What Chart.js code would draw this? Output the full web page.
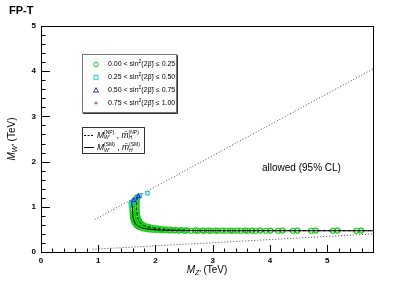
<!DOCTYPE html>
<html>
<head>
<meta charset="utf-8">
<script src="https://cdn.jsdelivr.net/npm/chart.js@4.4.1/dist/chart.umd.min.js"></script>
<style>
  html, body { margin: 0; padding: 0; background: #fff; }
  #wrap { width: 415px; height: 281px; }
</style>
</head>
<body>
<div id="wrap"><canvas id="chart" width="415" height="281"></canvas></div>
<script>
// Scan points, sin^2(2beta) in [0, 0.25] -- lower branch
const innerMZ = [1.585, 1.59, 1.595, 1.60, 1.60, 1.60, 1.605, 1.61, 1.62, 1.63, 1.645, 1.665, 1.69, 1.72, 1.76, 1.80, 1.85, 1.90, 1.96, 2.02, 2.09, 2.16, 2.24, 2.32, 2.41, 2.51,
                 2.62, 2.74, 2.85, 2.97, 3.09, 3.23, 3.35, 3.49, 3.61, 3.75, 3.93, 4.14, 4.40, 4.72, 5.10, 5.51];
const innerMW = [1.09, 1.04, 0.99, 0.94, 0.89, 0.84, 0.79, 0.75, 0.71, 0.67, 0.635, 0.60, 0.575, 0.555, 0.535, 0.52, 0.51, 0.50, 0.495, 0.49, 0.485, 0.48, 0.478, 0.476, 0.474, 0.472,
                 0.47, 0.47, 0.47, 0.47, 0.47, 0.47, 0.47, 0.47, 0.47, 0.47, 0.47, 0.47, 0.47, 0.47, 0.47, 0.47];
// upper branch
const outerMZ = [1.68, 1.675, 1.67, 1.67, 1.67, 1.67, 1.67, 1.675, 1.68, 1.69, 1.70, 1.715, 1.735, 1.76, 1.79, 1.83, 1.87, 1.92, 1.98, 2.04, 2.11, 2.18, 2.26, 2.35, 2.45, 2.55,
                 2.70, 2.82, 2.93, 3.05, 3.17, 3.31, 3.43, 3.57, 3.69, 3.83, 4.01, 4.22, 4.48, 4.80, 5.18, 5.59];
const outerMW = [1.21, 1.16, 1.11, 1.06, 1.01, 0.96, 0.91, 0.86, 0.81, 0.76, 0.72, 0.68, 0.645, 0.615, 0.59, 0.57, 0.555, 0.54, 0.527, 0.516, 0.507, 0.50, 0.494, 0.488, 0.484, 0.48,
                 0.477, 0.476, 0.475, 0.475, 0.475, 0.475, 0.475, 0.475, 0.475, 0.475, 0.475, 0.475, 0.475, 0.475, 0.475, 0.475];

// sin^2(2beta) in (0.25, 0.50]
const cyanMZ = [1.57, 1.59, 1.61, 1.64, 1.67, 1.70, 1.73, 1.86];
const cyanMW = [1.04, 1.09, 1.13, 1.16, 1.19, 1.22, 1.25, 1.30];
// sin^2(2beta) in (0.50, 0.75]
const blueMZ = [1.62, 1.70];
const blueMW = [1.14, 1.23];
// sin^2(2beta) in (0.75, 1.00]
const magentaMZ = [];
const magentaMW = [];

// bound curves
const npMZ = [1.68, 1.67, 1.67, 1.68, 1.70, 1.735, 1.79, 1.87, 1.98, 2.11, 2.26, 2.45, 2.70, 3.10, 3.60, 4.20, 5.00, 5.80];
const npMW = [1.21, 1.11, 0.96, 0.81, 0.72, 0.645, 0.59, 0.555, 0.527, 0.507, 0.494, 0.484, 0.477, 0.475, 0.474, 0.473, 0.472, 0.472];
const smMZ = [1.585, 1.595, 1.60, 1.605, 1.62, 1.645, 1.69, 1.76, 1.85, 1.96, 2.09, 2.24, 2.41, 2.70, 3.20, 4.00, 5.00, 5.80];
const smMW = [1.09, 0.99, 0.89, 0.79, 0.71, 0.635, 0.575, 0.535, 0.51, 0.495, 0.485, 0.478, 0.474, 0.471, 0.47, 0.47, 0.47, 0.47];

// dotted limits
const upperMZ = [0.94, 5.80];
const upperMW = [0.72, 4.05];
const lowerMZ = [0.90, 5.80];
const lowerMW = [0.06, 0.40];

const xTicks = [0, 1, 2, 3, 4, 5];
const yTicks = [0, 1, 2, 3, 4, 5];

const legendRows = [
    { lo: '0.00', hi: '0.25', color: '#11cc11', style: 'circle' },
    { lo: '0.25', hi: '0.50', color: '#22cccc', style: 'rect' },
    { lo: '0.50', hi: '0.75', color: '#3333cc', style: 'triangle' },
    { lo: '0.75', hi: '1.00', color: '#cc44cc', style: 'dot' }
];

const FONT = "'Liberation Sans', Arial, sans-serif";
const pts = (xs, ys) => xs.map((x, i) => ({ x: x, y: ys[i] }));

// draw a run of text pieces (for sub/superscripts); piece.w = 0 means "don't advance"
function drawRich(ctx, x, y, parts, align) {
    let total = 0;
    parts.forEach(p => {
        ctx.font = p.font;
        total += (p.w === 0) ? 0 : ctx.measureText(p.t).width;
    });
    let cx = align === 'center' ? x - total / 2 : x;
    parts.forEach(p => {
        ctx.font = p.font;
        ctx.fillText(p.t, cx, y + (p.dy || 0));
        if (p.w !== 0) cx += ctx.measureText(p.t).width;
    });
}

function drawMarker(ctx, style, x, y, color) {
    ctx.save();
    ctx.strokeStyle = color;
    ctx.fillStyle = color;
    ctx.lineWidth = 1;
    ctx.beginPath();
    if (style === 'circle') {
        ctx.arc(x, y, 2.2, 0, Math.PI * 2);
        ctx.stroke();
    } else if (style === 'rect') {
        ctx.strokeRect(x - 2, y - 2, 4, 4);
    } else if (style === 'triangle') {
        ctx.moveTo(x, y - 2.5);
        ctx.lineTo(x + 2.5, y + 2);
        ctx.lineTo(x - 2.5, y + 2);
        ctx.closePath();
        ctx.stroke();
    } else {
        ctx.arc(x, y, 1.5, 0, Math.PI * 2);
        ctx.fill();
    }
    ctx.restore();
}

const decor = {
    id: 'decor',
    afterDraw(chart) {
        const ctx = chart.ctx;
        const a = chart.chartArea;
        const xs = chart.scales.x, ys = chart.scales.y;
        ctx.save();

        // frame
        ctx.strokeStyle = '#000';
        ctx.lineWidth = 1;
        ctx.strokeRect(Math.round(a.left) + 0.5, Math.round(a.top) + 0.5, Math.round(a.right - a.left), Math.round(a.bottom - a.top));

        // inner ticks (ROOT style)
        ctx.beginPath();
        for (let v = 0; v <= 5.8001; v += 0.2) {
            const px = Math.round(xs.getPixelForValue(v)) + 0.5;
            const major = Math.abs(v - Math.round(v)) < 1e-6;
            ctx.moveTo(px, a.bottom);
            ctx.lineTo(px, a.bottom - (major ? 7 : 3.5));
        }
        for (let v = 0; v <= 5.0001; v += 0.2) {
            const py = Math.round(ys.getPixelForValue(v)) + 0.5;
            const major = Math.abs(v - Math.round(v)) < 1e-6;
            ctx.moveTo(a.left, py);
            ctx.lineTo(a.left + (major ? 9 : 4.5), py);
        }
        ctx.stroke();

        ctx.fillStyle = '#000';
        ctx.textBaseline = 'middle';
        ctx.textAlign = 'left';

        // title
        ctx.font = 'bold 11px ' + FONT;
        ctx.fillText('FP-T', 9, 11);

        // axis titles
        drawRich(ctx, (a.left + a.right) / 2, 270, [
            { t: 'M', font: 'italic 10px ' + FONT },
            { t: 'Z\u2032', font: 'italic 7px ' + FONT, dy: 3 },
            { t: ' (TeV)', font: '10px ' + FONT }
        ], 'center');
        ctx.save();
        ctx.translate(12, (a.top + a.bottom) / 2);
        ctx.rotate(-Math.PI / 2);
        drawRich(ctx, 0, 0, [
            { t: 'M', font: 'italic 10px ' + FONT },
            { t: 'W\u2032', font: 'italic 7px ' + FONT, dy: 3 },
            { t: ' (TeV)', font: '10px ' + FONT }
        ], 'center');
        ctx.restore();

        // annotation
        ctx.font = '10px ' + FONT;
        ctx.fillText('allowed (95% CL)', 262, 168);

        // legend 1
        ctx.fillStyle = '#fff';
        ctx.fillRect(82.5, 54.5, 94, 58);
        ctx.strokeStyle = '#777';
        ctx.strokeRect(82.5, 54.5, 94, 58);
        ctx.strokeStyle = '#333';
        ctx.beginPath();
        ctx.moveTo(83, 113.5); ctx.lineTo(177.5, 113.5); ctx.lineTo(177.5, 55);
        ctx.stroke();
        legendRows.forEach((r, i) => {
            const y = 64.5 + i * 12.8;
            drawMarker(ctx, r.style, 96, y, r.color);
            ctx.fillStyle = '#000';
            drawRich(ctx, 108, y, [
                { t: r.lo + ' < sin', font: '7px ' + FONT },
                { t: '2', font: '5px ' + FONT, dy: -2.5 },
                { t: '(2\u03B2\u0303) \u2264 ' + r.hi, font: '7px ' + FONT }
            ]);
        });

        // legend 2
        ctx.fillStyle = '#fff';
        ctx.fillRect(82.5, 127.5, 62, 26);
        ctx.strokeStyle = '#333';
        ctx.strokeRect(82.5, 127.5, 62, 26);
        const rows2 = [{ tag: '(NP)', dash: [2, 1.5], y: 134.5 }, { tag: '(SM)', dash: [], y: 147 }];
        rows2.forEach(r => {
            ctx.strokeStyle = '#000';
            ctx.setLineDash(r.dash);
            ctx.beginPath();
            ctx.moveTo(84, Math.round(r.y) + 0.5);
            ctx.lineTo(94, Math.round(r.y) + 0.5);
            ctx.stroke();
            ctx.setLineDash([]);
            ctx.fillStyle = '#000';
            drawRich(ctx, 97, r.y + 1, [
                { t: 'M', font: 'italic 8.5px ' + FONT },
                { t: 'W\u2032', font: 'italic 5px ' + FONT, dy: 2.5, w: 0 },
                { t: r.tag, font: '5px ' + FONT, dy: -3 },
                { t: ' , ', font: '8.5px ' + FONT },
                { t: 'm\u0304', font: 'italic 8.5px ' + FONT },
                { t: 'H', font: 'italic 5px ' + FONT, dy: 2.5, w: 0 },
                { t: r.tag, font: '5px ' + FONT, dy: -3 }
            ]);
        });

        ctx.restore();
    }
};

const scatterSet = (label, xs, ys, color, style, radius) => ({
    type: 'scatter',
    label: label,
    data: pts(xs, ys),
    showLine: false,
    pointStyle: style,
    pointRadius: radius,
    pointHoverRadius: radius,
    pointBorderWidth: 1.2,
    borderColor: color,
    backgroundColor: 'rgba(0,0,0,0)'
});

const lineSet = (label, xs, ys, color, dash, width) => ({
    type: 'line',
    label: label,
    data: pts(xs, ys),
    borderColor: color,
    borderWidth: width,
    borderDash: dash,
    pointRadius: 0,
    fill: false,
    tension: 0.3,
    cubicInterpolationMode: 'monotone'
});

new Chart(document.getElementById('chart').getContext('2d'), {
    type: 'scatter',
    data: {
        datasets: [
            lineSet('NP', npMZ, npMW, '#000', [3, 2], 1),
            lineSet('SM', smMZ, smMW, '#000', [], 1),
            scatterSet('0.50-0.75', blueMZ, blueMW, '#3333cc', 'triangle', 2.5),
            scatterSet('0.25-0.50', cyanMZ, cyanMW, '#22cccc', 'rect', 2.3),
            Object.assign(scatterSet('0.75-1.00', magentaMZ, magentaMW, '#cc44cc', 'circle', 1.5), { backgroundColor: '#cc44cc' }),
            scatterSet('0.00-0.25 a', innerMZ, innerMW, '#11cc11', 'circle', 2.5),
            scatterSet('0.00-0.25 b', outerMZ, outerMW, '#11cc11', 'circle', 2.5),
            lineSet('upper', upperMZ, upperMW, '#444', [1, 2], 1),
            lineSet('lower', lowerMZ, lowerMW, '#444', [1, 2], 1)
        ]
    },
    options: {
        responsive: false,
        animation: false,
        events: [],
        layout: { padding: { top: 26, right: 42, left: 0, bottom: 0 } },
        plugins: {
            legend: { display: false },
            tooltip: { enabled: false },
            title: { display: false }
        },
        scales: {
            x: {
                type: 'linear',
                min: 0,
                max: 5.8,
                grid: { display: false, drawTicks: false },
                border: { display: true, color: '#000', width: 1 },
                afterBuildTicks: s => { s.ticks = xTicks.map(v => ({ value: v })); },
                afterFit: s => { s.height = 29; },
                ticks: {
                    padding: 4,
                    maxRotation: 0,
                    color: '#000',
                    font: { family: FONT, size: 8, weight: 'bold' }
                }
            },
            y: {
                type: 'linear',
                min: 0,
                max: 5,
                grid: { display: false, drawTicks: false },
                border: { display: true, color: '#000', width: 1 },
                afterBuildTicks: s => { s.ticks = yTicks.map(v => ({ value: v })); },
                afterFit: s => { s.width = 41; },
                ticks: {
                    padding: 5,
                    color: '#000',
                    font: { family: FONT, size: 8, weight: 'bold' }
                }
            }
        }
    },
    plugins: [decor]
});
</script>
</body>
</html>
